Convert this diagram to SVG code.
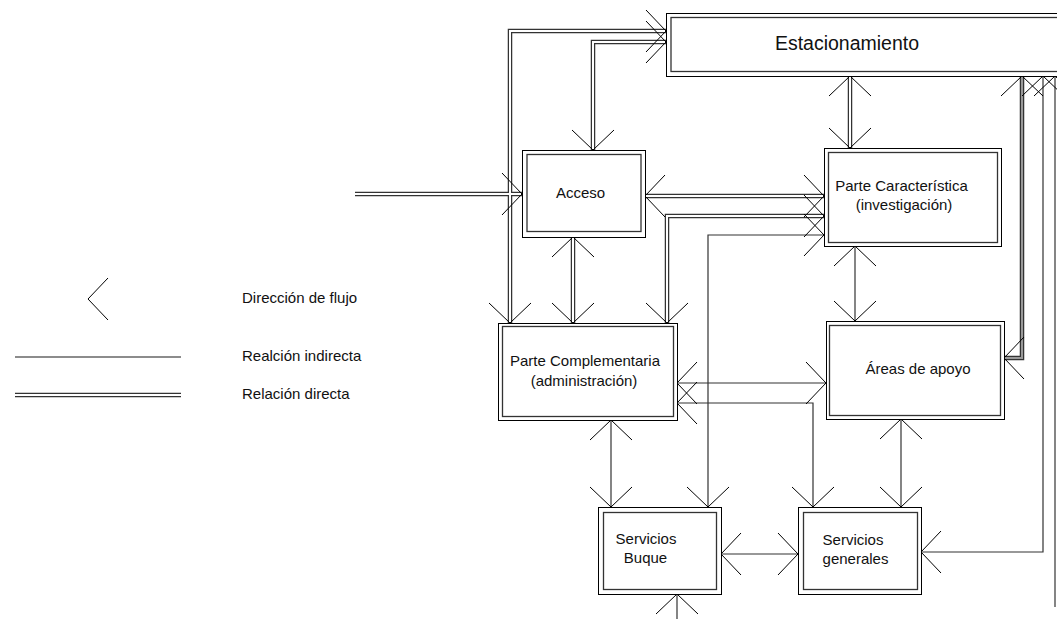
<svg xmlns="http://www.w3.org/2000/svg" xmlns:xlink="http://www.w3.org/1999/xlink" width="1057" height="619" viewBox="0 0 1057 619">
<style>
  .box-o{fill:#fff;stroke:#000;stroke-width:1}
  .box-i{fill:none;stroke:#333;stroke-width:1.3}
  .t{font-family:"Liberation Sans",Arial,sans-serif;font-size:15px;fill:#111;text-anchor:middle}
  .tl{font-family:"Liberation Sans",Arial,sans-serif;font-size:15px;fill:#111}
  .big{font-size:19.5px}
  .dbl-o{fill:none;stroke:#333;stroke-width:4.5}
  .dbl-i{fill:none;stroke:#fff;stroke-width:2}
  .dbl-g{fill:none;stroke:#999;stroke-width:2}
  .sgl{fill:none;stroke:#333;stroke-width:1.2}
  .ah{fill:none;stroke:#000;stroke-width:1}
</style>
<defs>
  <path id="ah" class="ah" d="M-20,-21 L0,0 L-20,21"/>
</defs>
<rect width="1057" height="619" fill="#fff"/>

<g id="legend">
  <use xlink:href="#ah" transform="translate(88,299) rotate(180)"/>
  <text class="tl" x="242" y="303">Dirección de flujo</text>
  <line x1="15" y1="357" x2="181" y2="357" stroke="#666" stroke-width="1.5"/>
  <text class="tl" x="242" y="361">Realción indirecta</text>
  <line x1="15" y1="395" x2="181" y2="395" class="dbl-o"/>
  <line x1="15" y1="395" x2="181" y2="395" class="dbl-i"/>
  <text class="tl" x="242" y="399">Relación directa</text>
</g>

<g id="connectors">
  <!-- direct (double) relations -->
  <g>
    <path class="dbl-o" d="M355,194 H522"/>
    <path class="dbl-o" d="M666,31 H510 V323"/>
    <path class="dbl-o" d="M666,42 H593 V150"/>
    <path class="dbl-o" d="M850,76 V148"/>
    <path class="dbl-o" d="M645,196 H824"/>
    <path class="dbl-o" d="M824,216 H667 V323"/>
    <path class="dbl-o" d="M573,237 V323"/>
    <path class="dbl-o" d="M1004,358 H1022 V76"/>
    <path class="dbl-i" d="M355,194 H522"/>
    <path class="dbl-i" d="M666,31 H510 V323"/>
    <path class="dbl-i" d="M666,42 H593 V150"/>
    <path class="dbl-i" d="M850,76 V148"/>
    <path class="dbl-i" d="M645,196 H824"/>
    <path class="dbl-i" d="M824,216 H667 V323"/>
    <path class="dbl-i" d="M573,237 V323"/>
    <path class="dbl-g" d="M1004,358 H1022 V76"/>
  </g>
  <!-- indirect (single) relations -->
  <g>
    <path class="sgl" d="M824,235 H708 V507"/>
    <path class="sgl" d="M855,246 V321"/>
    <path class="sgl" d="M677,383 H826"/>
    <path class="sgl" d="M677,403 H813 V507"/>
    <path class="sgl" d="M611,420 V507"/>
    <path class="sgl" d="M721,554 H798"/>
    <path class="sgl" d="M901,419 V507"/>
    <path class="sgl" d="M921,552 H1043 V76"/>
    <path class="sgl" d="M1055,76 V607"/>
    <path class="sgl" d="M677,594 V619"/>
  </g>
  <!-- arrowheads -->
  <g>
    <use xlink:href="#ah" transform="translate(522,194)"/>
    <use xlink:href="#ah" transform="translate(666,31)"/>
    <use xlink:href="#ah" transform="translate(510,323) rotate(90)"/>
    <use xlink:href="#ah" transform="translate(666,42)"/>
    <use xlink:href="#ah" transform="translate(593,150) rotate(90)"/>
    <use xlink:href="#ah" transform="translate(850,76) rotate(-90)"/>
    <use xlink:href="#ah" transform="translate(850,148) rotate(90)"/>
    <use xlink:href="#ah" transform="translate(645,196) rotate(180)"/>
    <use xlink:href="#ah" transform="translate(824,196)"/>
    <use xlink:href="#ah" transform="translate(824,216)"/>
    <use xlink:href="#ah" transform="translate(667,323) rotate(90)"/>
    <use xlink:href="#ah" transform="translate(824,235)"/>
    <use xlink:href="#ah" transform="translate(708,507) rotate(90)"/>
    <use xlink:href="#ah" transform="translate(573,237) rotate(-90)"/>
    <use xlink:href="#ah" transform="translate(573,323) rotate(90)"/>
    <use xlink:href="#ah" transform="translate(855,246) rotate(-90)"/>
    <use xlink:href="#ah" transform="translate(855,321) rotate(90)"/>
    <use xlink:href="#ah" transform="translate(677,383) rotate(180)"/>
    <use xlink:href="#ah" transform="translate(826,383)"/>
    <use xlink:href="#ah" transform="translate(677,403) rotate(180)"/>
    <use xlink:href="#ah" transform="translate(813,507) rotate(90)"/>
    <use xlink:href="#ah" transform="translate(611,420) rotate(-90)"/>
    <use xlink:href="#ah" transform="translate(611,507) rotate(90)"/>
    <use xlink:href="#ah" transform="translate(721,554) rotate(180)"/>
    <use xlink:href="#ah" transform="translate(798,554)"/>
    <use xlink:href="#ah" transform="translate(901,419) rotate(-90)"/>
    <use xlink:href="#ah" transform="translate(901,507) rotate(90)"/>
    <use xlink:href="#ah" transform="translate(1004,358) rotate(180)"/>
    <use xlink:href="#ah" transform="translate(1022,76) rotate(-90)"/>
    <use xlink:href="#ah" transform="translate(921,552) rotate(180)"/>
    <use xlink:href="#ah" transform="translate(1043,76) rotate(-90)"/>
    <use xlink:href="#ah" transform="translate(1055,76) rotate(-90)"/>
    <use xlink:href="#ah" transform="translate(677,594) rotate(-90)"/>
  </g>
</g>

<g id="estacionamiento">
  <rect class="box-o" x="666.5" y="13.5" width="400" height="63"/>
  <rect class="box-i" x="671" y="17.5" width="400" height="54"/>
  <text class="t big" x="847" y="50">Estacionamiento</text>
</g>
<g id="acceso">
  <rect class="box-o" x="522.5" y="150.5" width="123" height="87"/>
  <rect class="box-i" x="527" y="154.5" width="114" height="77"/>
  <text class="t" x="580.5" y="198">Acceso</text>
</g>
<g id="parte-caracteristica">
  <rect class="box-o" x="824.5" y="148.5" width="177" height="98"/>
  <rect class="box-i" x="828.5" y="152.5" width="169" height="90"/>
  <text class="t" x="901.5" y="191">Parte Característica</text>
  <text class="t" x="904" y="210">(investigación)</text>
</g>
<g id="parte-complementaria">
  <rect class="box-o" x="498.5" y="323.5" width="179" height="97"/>
  <rect class="box-i" x="502.5" y="326.5" width="171" height="90"/>
  <text class="t" x="585" y="366">Parte Complementaria</text>
  <text class="t" x="584" y="386">(administración)</text>
</g>
<g id="areas-de-apoyo">
  <rect class="box-o" x="826.5" y="321.5" width="178" height="98"/>
  <rect class="box-i" x="829.5" y="325.5" width="171" height="90"/>
  <text class="t" x="918" y="374">Áreas de apoyo</text>
</g>
<g id="servicios-buque">
  <rect class="box-o" x="598.5" y="507.5" width="123" height="87"/>
  <rect class="box-i" x="603.5" y="512.5" width="113" height="77"/>
  <text class="t" x="646" y="544">Servicios</text>
  <text class="t" x="645.5" y="563">Buque</text>
</g>
<g id="servicios-generales">
  <rect class="box-o" x="798.5" y="507.5" width="123" height="87"/>
  <rect class="box-i" x="803.5" y="512.5" width="114" height="77"/>
  <text class="t" x="853" y="545">Servicios</text>
  <text class="t" x="855.5" y="564">generales</text>
</g>
</svg>
